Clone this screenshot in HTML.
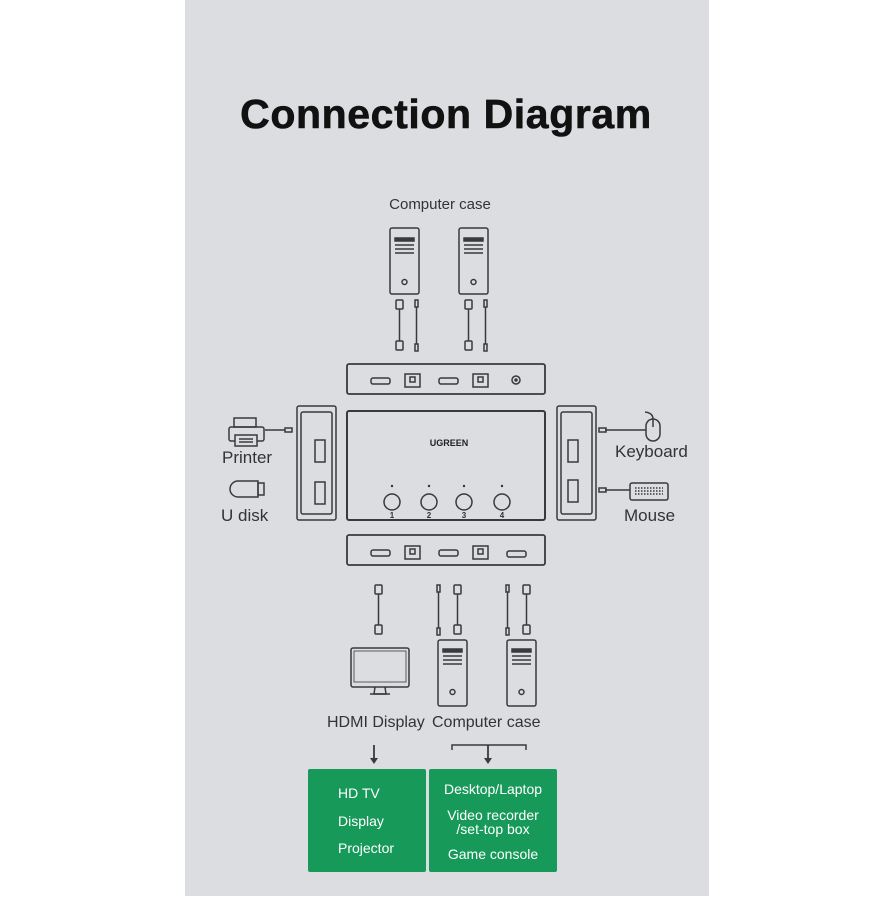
<!DOCTYPE html>
<html><head><style>
body{margin:0;width:896px;height:896px;background:#fff;overflow:hidden;font-family:"Liberation Sans",sans-serif}
</style></head><body>
<svg width="896" height="896" viewBox="0 0 896 896" xmlns="http://www.w3.org/2000/svg" font-family="Liberation Sans, sans-serif">
<rect x="185" y="0" width="524" height="896" fill="#dcdde1"/>
<text x="446" y="128" text-anchor="middle" font-size="41" font-weight="bold" fill="#111" letter-spacing="0.6" stroke="#111" stroke-width="0.6">Connection Diagram</text>
<text x="440" y="209" text-anchor="middle" font-size="15" fill="#333">Computer case</text>
<g fill="none" stroke="#3a3a3a" stroke-width="1.5">
<g id="tw"><rect x="390" y="228" width="29" height="66" rx="2"/><rect x="395" y="238" width="19" height="3" fill="#3a3a3a"/><line x1="395" y1="245" x2="414" y2="245"/><line x1="395" y1="249" x2="414" y2="249"/><line x1="395" y1="253" x2="414" y2="253"/><circle cx="404.5" cy="282" r="2.5"/></g>
<use href="#tw" x="69"/>
<g id="cb"><rect x="396" y="300" width="7" height="9" rx="1"/><line x1="399.5" y1="309" x2="399.5" y2="341"/><rect x="396" y="341" width="7" height="9" rx="1"/><rect x="415" y="300" width="3" height="7"/><line x1="416.5" y1="307" x2="416.5" y2="344"/><rect x="415" y="344" width="3" height="7"/></g>
<use href="#cb" x="69"/>
<rect x="347" y="364" width="198" height="30" rx="2" stroke-width="1.8"/>
<g id="ports"><rect x="371" y="378" width="19" height="6" rx="2"/><rect x="405" y="374" width="15" height="13"/><rect x="410" y="377" width="5" height="5"/><rect x="439" y="378" width="19" height="6" rx="2"/><rect x="473" y="374" width="15" height="13"/><rect x="478" y="377" width="5" height="5"/></g>
<circle cx="516" cy="380" r="4"/><circle cx="516" cy="380" r="1" fill="#3a3a3a"/>
<rect x="347" y="411" width="198" height="109" rx="2" stroke-width="2"/>
<circle cx="392" cy="502" r="8"/><circle cx="429" cy="502" r="8"/><circle cx="464" cy="502" r="8"/><circle cx="502" cy="502" r="8"/>
<rect x="297" y="406" width="39" height="114" rx="2"/><rect x="301" y="412" width="31" height="102" rx="2"/>
<rect x="315" y="440" width="10" height="22"/><rect x="315" y="482" width="10" height="22"/>
<rect x="557" y="406" width="39" height="114" rx="2"/><rect x="561" y="412" width="31" height="102" rx="2"/>
<rect x="568" y="440" width="10" height="22"/><rect x="568" y="480" width="10" height="22"/>
<rect x="347" y="535" width="198" height="30" rx="2" stroke-width="1.8"/>
<use href="#ports" y="172"/>
<rect x="507" y="551" width="19" height="6" rx="2"/>
<rect x="234" y="418" width="22" height="9"/><rect x="229" y="427" width="35" height="14" rx="2"/><rect x="235" y="435" width="22" height="11" fill="#dcdde1"/>
<line x1="239" y1="439" x2="253" y2="439"/><line x1="239" y1="442" x2="253" y2="442"/>
<line x1="265" y1="430" x2="285" y2="430"/><rect x="285" y="428" width="7" height="4"/>
<path d="M238 481 h20 v16 h-20 a8 8 0 0 1 0 -16z"/><rect x="258" y="483" width="6" height="12"/>
<rect x="646" y="419" width="14" height="22" rx="7"/><line x1="653" y1="419" x2="653" y2="427"/><path d="M653 419 q0 -6 -8 -7"/>
<line x1="605" y1="430" x2="646" y2="430"/><rect x="599" y="428" width="7" height="4"/>
<rect x="630" y="483" width="38" height="17" rx="2"/>
<line x1="635" y1="488" x2="663" y2="488" stroke-dasharray="1.5 1.5"/><line x1="635" y1="491" x2="663" y2="491" stroke-dasharray="1.5 1.5"/><line x1="635" y1="494" x2="663" y2="494" stroke-dasharray="1.5 1.5"/>
<line x1="605" y1="490" x2="630" y2="490"/><rect x="599" y="488" width="7" height="4"/>
<rect x="375" y="585" width="7" height="9" rx="1"/><line x1="378.5" y1="594" x2="378.5" y2="625"/><rect x="375" y="625" width="7" height="9" rx="1"/>
<g id="cb2"><rect x="437" y="585" width="3" height="7"/><line x1="438.5" y1="592" x2="438.5" y2="628"/><rect x="437" y="628" width="3" height="7"/><rect x="454" y="585" width="7" height="9" rx="1"/><line x1="457.5" y1="594" x2="457.5" y2="625"/><rect x="454" y="625" width="7" height="9" rx="1"/></g>
<use href="#cb2" x="69"/>
<rect x="351" y="648" width="58" height="39" rx="2"/><rect x="354" y="651" width="52" height="31" stroke-width="0.8"/>
<path d="M375 687 l-1 7 h12 l-1 -7"/><line x1="370" y1="694" x2="390" y2="694"/>
<g id="tw2"><rect x="438" y="640" width="29" height="66" rx="2"/><rect x="443" y="649" width="19" height="3" fill="#3a3a3a"/><line x1="443" y1="656" x2="462" y2="656"/><line x1="443" y1="660" x2="462" y2="660"/><line x1="443" y1="664" x2="462" y2="664"/><circle cx="452.5" cy="692" r="2.5"/></g>
<use href="#tw2" x="69"/>
<path d="M452 750 v-5 h74 v5"/>
<line x1="374" y1="745" x2="374" y2="760" stroke-width="1.8"/><line x1="488" y1="745" x2="488" y2="760" stroke-width="1.8"/>
</g>
<path d="M370 758 l4 6 l4 -6z M484 758 l4 6 l4 -6z" fill="#3a3a3a"/>
<g fill="#333"><text x="392" y="518" text-anchor="middle" font-size="8" font-weight="bold">1</text><text x="429" y="518" text-anchor="middle" font-size="8" font-weight="bold">2</text><text x="464" y="518" text-anchor="middle" font-size="8" font-weight="bold">3</text><text x="502" y="518" text-anchor="middle" font-size="8" font-weight="bold">4</text>
<circle cx="392" cy="486" r="1.2"/><circle cx="429" cy="486" r="1.2"/><circle cx="464" cy="486" r="1.2"/><circle cx="502" cy="486" r="1.2"/></g>
<text x="449" y="446" text-anchor="middle" font-size="9" font-weight="bold" fill="#222">UGREEN</text>
<g font-size="17" fill="#333">
<text x="222" y="463">Printer</text><text x="221" y="521">U disk</text>
<text x="615" y="457">Keyboard</text><text x="624" y="521">Mouse</text>
<text x="327" y="727" font-size="16">HDMI Display</text><text x="432" y="727" font-size="16">Computer case</text>
</g>
<rect x="308" y="769" width="118" height="103" rx="2" fill="#179a59"/>
<rect x="429" y="769" width="128" height="103" rx="2" fill="#179a59"/>
<g fill="#fff" font-size="14">
<text x="338" y="798">HD TV</text><text x="338" y="826">Display</text><text x="338" y="853">Projector</text>
<g text-anchor="middle"><text x="493" y="794">Desktop/Laptop</text><text x="493" y="820">Video recorder</text><text x="493" y="834">/set-top box</text><text x="493" y="859">Game console</text></g>
</g>
</svg>
</body></html>
